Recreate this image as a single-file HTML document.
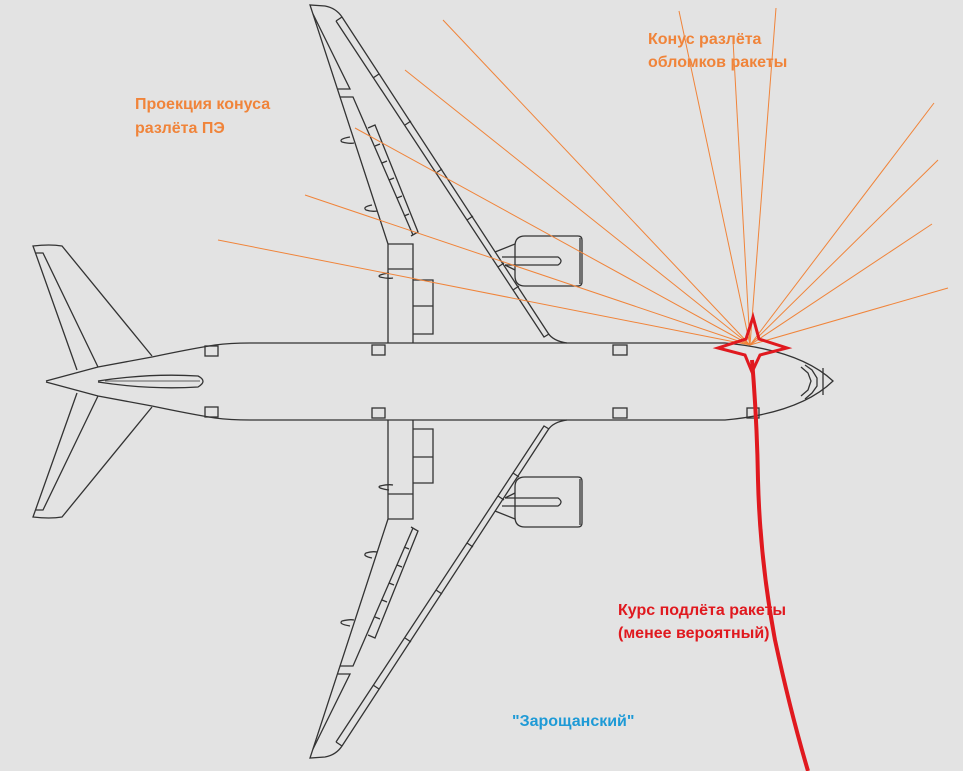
<!DOCTYPE html>
<html><head><meta charset="utf-8"><style>
html,body{margin:0;padding:0;background:#e3e3e3;}
svg{display:block}
text{font-family:"Liberation Sans","DejaVu Sans",sans-serif;font-weight:bold;font-size:16px}
</style></head><body>
<svg width="963" height="771" viewBox="0 0 963 771" xmlns="http://www.w3.org/2000/svg">
<rect width="963" height="771" fill="#e3e3e3"/>
<defs>
<g id="wing" fill="none" stroke="#333" stroke-width="1.3">
  <path d="M567,343 Q553,341 548,333 L342,17 Q336,8 325,6 L310,5 L388,244 L388,343"/>
  <path d="M336,21 L342,17 M336,21 L544,337 L549,334"/>
  <path d="M373,78 L379,74 M405,125 L411,121 M436,173 L442,169 M467,220 L473,216 M498,267 L504,263 M513,290 L519,286"/>
  <path d="M313,14 L350,89 L338,89"/>
  <path d="M340,97 L353,97 L413,235"/>
  <path d="M368,128 L375,125 L418,232 L411,236"/>
  <path d="M375,146 L380,144 M382,163 L387,161 M389,180 L394,178 M397,198 L402,196 M404,216 L409,214"/>
  <path d="M388,244 L413,244 L413,343 M388,269 L413,269"/>
  <path d="M413,280 L433,280 L433,334 L413,334 M413,306 L433,306"/>
  <path d="M350,137 Q338,139 342,142 Q350,144 354,143"/>
  <path d="M372,205 Q362,207 366,210 Q372,212 377,211"/>
  <path d="M389,273 Q376,275 380,277 Q388,279 393,278"/>
  <path d="M525,236 L578,236 Q582,236 582,240 L582,282 Q582,286 578,286 L525,286 Q515,286 515,276 L515,246 Q515,236 525,236 Z"/>
  <path d="M580,238 L580,284"/>
  <path d="M502,257 L558,257 Q564,261 558,265 L505,265"/>
  <path d="M495,252 L515,244 M505,265 L515,270"/>
</g>
<g id="htail" fill="none" stroke="#333" stroke-width="1.3">
  <path d="M152,356 L62,246 Q50,244 33,246 L77,370"/>
  <path d="M36,253 L43,253 L98,367"/>
</g>
</defs>

<use href="#wing"/>
<use href="#wing" transform="translate(0,763) scale(1,-1)"/>
<use href="#htail"/>
<use href="#htail" transform="translate(0,763) scale(1,-1)"/>

<g fill="none" stroke="#333" stroke-width="1.3">
  <path d="M46,381 L98,367 L152,357 Q190,349 215,345 Q230,343 250,343 L725,343 Q800,350 833,381 Q800,413 725,420 L250,420 Q230,420 215,418 Q190,414 152,406 L98,396 L46,382"/>
  <path d="M98,381 Q150,373 198,376 Q208,381 198,387 Q150,390 98,382"/>
  <path d="M105,381 L200,381" stroke-width="0.8"/>
  <rect x="205" y="346" width="13" height="10"/>
  <rect x="372" y="345" width="13" height="10"/>
  <rect x="613" y="345" width="14" height="10"/>
  <rect x="205" y="407" width="13" height="10"/>
  <rect x="372" y="408" width="13" height="10"/>
  <rect x="613" y="408" width="14" height="10"/>
  <rect x="747" y="408" width="12" height="10"/>
  <path d="M805,365 L812,370 L817,378 L817,386 L812,393 L805,399"/>
  <path d="M801,367 L808,373 L811,381 L808,390 L801,396"/>
  <path d="M823,368 L823,395"/>
</g>

<g stroke="#f0843a" stroke-width="1" fill="none">
  <line x1="750" y1="345" x2="218" y2="240"/>
  <line x1="750" y1="345" x2="305" y2="195"/>
  <line x1="750" y1="345" x2="355" y2="128"/>
  <line x1="750" y1="345" x2="405" y2="70"/>
  <line x1="750" y1="345" x2="443" y2="20"/>
  <line x1="750" y1="345" x2="679" y2="11"/>
  <line x1="750" y1="345" x2="733" y2="40"/>
  <line x1="750" y1="345" x2="776" y2="8"/>
  <line x1="750" y1="345" x2="934" y2="103"/>
  <line x1="750" y1="345" x2="938" y2="160"/>
  <line x1="750" y1="345" x2="932" y2="224"/>
  <line x1="750" y1="345" x2="948" y2="288"/>
</g>

<g stroke="#e0191f" fill="none" stroke-linejoin="miter">
  <path d="M753,317 L759,339 L787,348 L760,355 L752,372 L745,355 L718,348 L746,339 Z" stroke-width="3"/>
  <path d="M752,360 Q757,420 758,480 Q760,560 775,640 Q790,710 808,771" stroke-width="4"/>
</g>

<text x="135" y="109" fill="#f0843a">Проекция конуса</text>
<text x="135" y="133" fill="#f0843a">разлёта ПЭ</text>
<text x="648" y="44" fill="#f0843a">Конус разлёта</text>
<text x="648" y="67" fill="#f0843a">обломков ракеты</text>
<text x="618" y="615" fill="#e0191f">Курс подлёта ракеты</text>
<text x="618" y="638" fill="#e0191f">(менее вероятный)</text>
<text x="512" y="726" fill="#1e9ad6">"Зарощанский"</text>
</svg>
</body></html>
